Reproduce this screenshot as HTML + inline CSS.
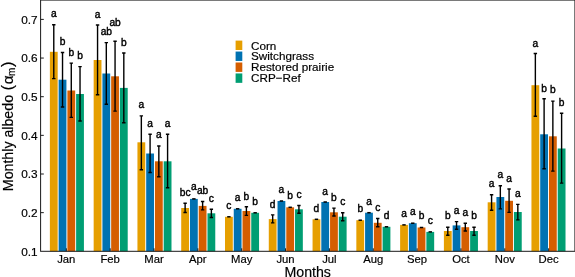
<!DOCTYPE html><html><head><meta charset="utf-8"><title>Monthly albedo</title>
<style>html,body{margin:0;padding:0;background:#fff}svg{display:block;will-change:transform;opacity:0.999}text{font-family:"Liberation Sans",sans-serif;fill:#000;stroke:#000;stroke-width:0.18px}</style></head><body>
<svg width="575" height="277" viewBox="0 0 575 277">
<rect width="575" height="277" fill="#fff"/>
<rect x="49.88" y="51.80" width="7.80" height="199.50" fill="#E69F00"/>
<rect x="58.63" y="79.70" width="7.80" height="171.60" fill="#0072B2"/>
<rect x="67.38" y="90.50" width="7.80" height="160.80" fill="#D55E00"/>
<rect x="76.12" y="94.00" width="7.80" height="157.30" fill="#009E73"/>
<rect x="93.66" y="60.00" width="7.80" height="191.30" fill="#E69F00"/>
<rect x="102.41" y="73.50" width="7.80" height="177.80" fill="#0072B2"/>
<rect x="111.16" y="76.30" width="7.80" height="175.00" fill="#D55E00"/>
<rect x="119.91" y="87.90" width="7.80" height="163.40" fill="#009E73"/>
<rect x="137.44" y="142.30" width="7.80" height="109.00" fill="#E69F00"/>
<rect x="146.19" y="153.50" width="7.80" height="97.80" fill="#0072B2"/>
<rect x="154.94" y="161.30" width="7.80" height="90.00" fill="#D55E00"/>
<rect x="163.69" y="161.30" width="7.80" height="90.00" fill="#009E73"/>
<rect x="181.22" y="208.00" width="7.80" height="43.30" fill="#E69F00"/>
<rect x="189.97" y="198.90" width="7.80" height="52.40" fill="#0072B2"/>
<rect x="198.72" y="205.90" width="7.80" height="45.40" fill="#D55E00"/>
<rect x="207.47" y="213.30" width="7.80" height="38.00" fill="#009E73"/>
<rect x="225.00" y="216.80" width="7.80" height="34.50" fill="#E69F00"/>
<rect x="233.75" y="208.80" width="7.80" height="42.50" fill="#0072B2"/>
<rect x="242.50" y="211.00" width="7.80" height="40.30" fill="#D55E00"/>
<rect x="251.25" y="212.80" width="7.80" height="38.50" fill="#009E73"/>
<rect x="268.78" y="219.10" width="7.80" height="32.20" fill="#E69F00"/>
<rect x="277.53" y="201.00" width="7.80" height="50.30" fill="#0072B2"/>
<rect x="286.28" y="207.30" width="7.80" height="44.00" fill="#D55E00"/>
<rect x="295.03" y="209.30" width="7.80" height="42.00" fill="#009E73"/>
<rect x="312.56" y="219.30" width="7.80" height="32.00" fill="#E69F00"/>
<rect x="321.31" y="202.00" width="7.80" height="49.30" fill="#0072B2"/>
<rect x="330.06" y="212.30" width="7.80" height="39.00" fill="#D55E00"/>
<rect x="338.81" y="216.70" width="7.80" height="34.60" fill="#009E73"/>
<rect x="356.34" y="220.20" width="7.80" height="31.10" fill="#E69F00"/>
<rect x="365.09" y="212.70" width="7.80" height="38.60" fill="#0072B2"/>
<rect x="373.84" y="222.80" width="7.80" height="28.50" fill="#D55E00"/>
<rect x="382.59" y="226.80" width="7.80" height="24.50" fill="#009E73"/>
<rect x="400.12" y="224.90" width="7.80" height="26.40" fill="#E69F00"/>
<rect x="408.87" y="223.20" width="7.80" height="28.10" fill="#0072B2"/>
<rect x="417.62" y="227.50" width="7.80" height="23.80" fill="#D55E00"/>
<rect x="426.37" y="231.90" width="7.80" height="19.40" fill="#009E73"/>
<rect x="443.89" y="231.00" width="7.80" height="20.30" fill="#E69F00"/>
<rect x="452.64" y="225.40" width="7.80" height="25.90" fill="#0072B2"/>
<rect x="461.39" y="227.20" width="7.80" height="24.10" fill="#D55E00"/>
<rect x="470.14" y="231.00" width="7.80" height="20.30" fill="#009E73"/>
<rect x="487.68" y="202.30" width="7.80" height="49.00" fill="#E69F00"/>
<rect x="496.43" y="197.00" width="7.80" height="54.30" fill="#0072B2"/>
<rect x="505.18" y="200.80" width="7.80" height="50.50" fill="#D55E00"/>
<rect x="513.93" y="212.00" width="7.80" height="39.30" fill="#009E73"/>
<rect x="531.46" y="85.20" width="7.80" height="166.10" fill="#E69F00"/>
<rect x="540.21" y="134.30" width="7.80" height="117.00" fill="#0072B2"/>
<rect x="548.96" y="136.30" width="7.80" height="115.00" fill="#D55E00"/>
<rect x="557.71" y="148.50" width="7.80" height="102.80" fill="#009E73"/>
<path d="M52.08 24.80H55.48M52.08 78.60H55.48M53.78 24.80V78.60" stroke="#000" stroke-width="1.4" fill="none"/>
<path d="M60.83 52.50H64.23M60.83 107.00H64.23M62.53 52.50V107.00" stroke="#000" stroke-width="1.4" fill="none"/>
<path d="M69.58 63.10H72.98M69.58 117.40H72.98M71.28 63.10V117.40" stroke="#000" stroke-width="1.4" fill="none"/>
<path d="M78.33 66.60H81.73M78.33 121.00H81.73M80.03 66.60V121.00" stroke="#000" stroke-width="1.4" fill="none"/>
<path d="M95.86 25.00H99.26M95.86 94.70H99.26M97.56 25.00V94.70" stroke="#000" stroke-width="1.4" fill="none"/>
<path d="M104.61 42.60H108.01M104.61 104.30H108.01M106.31 42.60V104.30" stroke="#000" stroke-width="1.4" fill="none"/>
<path d="M113.36 41.30H116.76M113.36 111.10H116.76M115.06 41.30V111.10" stroke="#000" stroke-width="1.4" fill="none"/>
<path d="M122.11 53.00H125.51M122.11 122.80H125.51M123.81 53.00V122.80" stroke="#000" stroke-width="1.4" fill="none"/>
<path d="M139.64 115.90H143.03M139.64 169.70H143.03M141.34 115.90V169.70" stroke="#000" stroke-width="1.4" fill="none"/>
<path d="M148.39 134.20H151.78M148.39 172.50H151.78M150.09 134.20V172.50" stroke="#000" stroke-width="1.4" fill="none"/>
<path d="M157.14 146.00H160.53M157.14 176.80H160.53M158.84 146.00V176.80" stroke="#000" stroke-width="1.4" fill="none"/>
<path d="M165.89 134.20H169.28M165.89 187.80H169.28M167.59 134.20V187.80" stroke="#000" stroke-width="1.4" fill="none"/>
<path d="M183.42 203.30H186.81M183.42 212.50H186.81M185.12 203.30V212.50" stroke="#000" stroke-width="1.4" fill="none"/>
<path d="M192.17 198.90H195.56" stroke="#000" stroke-width="1.5" fill="none"/>
<path d="M200.92 201.50H204.31M200.92 209.90H204.31M202.62 201.50V209.90" stroke="#000" stroke-width="1.4" fill="none"/>
<path d="M209.67 209.30H213.06M209.67 217.50H213.06M211.37 209.30V217.50" stroke="#000" stroke-width="1.4" fill="none"/>
<path d="M227.20 216.80H230.59" stroke="#000" stroke-width="1.5" fill="none"/>
<path d="M235.95 208.80H239.34" stroke="#000" stroke-width="1.5" fill="none"/>
<path d="M244.70 206.70H248.09M244.70 215.40H248.09M246.40 206.70V215.40" stroke="#000" stroke-width="1.4" fill="none"/>
<path d="M253.45 212.80H256.85" stroke="#000" stroke-width="1.5" fill="none"/>
<path d="M270.98 214.90H274.38M270.98 222.90H274.38M272.68 214.90V222.90" stroke="#000" stroke-width="1.4" fill="none"/>
<path d="M279.73 201.00H283.12" stroke="#000" stroke-width="1.5" fill="none"/>
<path d="M288.48 207.30H291.88" stroke="#000" stroke-width="1.5" fill="none"/>
<path d="M297.23 205.50H300.62M297.23 213.20H300.62M298.93 205.50V213.20" stroke="#000" stroke-width="1.4" fill="none"/>
<path d="M314.76 219.30H318.16" stroke="#000" stroke-width="1.5" fill="none"/>
<path d="M323.51 202.00H326.91" stroke="#000" stroke-width="1.5" fill="none"/>
<path d="M332.26 208.10H335.66M332.26 216.00H335.66M333.96 208.10V216.00" stroke="#000" stroke-width="1.4" fill="none"/>
<path d="M341.01 212.80H344.41M341.01 220.70H344.41M342.71 212.80V220.70" stroke="#000" stroke-width="1.4" fill="none"/>
<path d="M358.54 220.20H361.94" stroke="#000" stroke-width="1.5" fill="none"/>
<path d="M367.29 212.70H370.69" stroke="#000" stroke-width="1.5" fill="none"/>
<path d="M376.04 218.50H379.44M376.04 226.80H379.44M377.74 218.50V226.80" stroke="#000" stroke-width="1.4" fill="none"/>
<path d="M384.79 226.80H388.19" stroke="#000" stroke-width="1.5" fill="none"/>
<path d="M402.31 224.90H405.71" stroke="#000" stroke-width="1.5" fill="none"/>
<path d="M411.06 223.20H414.46" stroke="#000" stroke-width="1.5" fill="none"/>
<path d="M419.81 227.50H423.21" stroke="#000" stroke-width="1.5" fill="none"/>
<path d="M428.56 231.90H431.96" stroke="#000" stroke-width="1.5" fill="none"/>
<path d="M446.09 227.20H449.49M446.09 235.30H449.49M447.79 227.20V235.30" stroke="#000" stroke-width="1.4" fill="none"/>
<path d="M454.84 221.60H458.24M454.84 229.30H458.24M456.54 221.60V229.30" stroke="#000" stroke-width="1.4" fill="none"/>
<path d="M463.59 223.30H466.99M463.59 231.00H466.99M465.29 223.30V231.00" stroke="#000" stroke-width="1.4" fill="none"/>
<path d="M472.34 227.20H475.74M472.34 235.30H475.74M474.04 227.20V235.30" stroke="#000" stroke-width="1.4" fill="none"/>
<path d="M489.88 194.80H493.28M489.88 210.30H493.28M491.58 194.80V210.30" stroke="#000" stroke-width="1.4" fill="none"/>
<path d="M498.63 185.70H502.03M498.63 208.90H502.03M500.33 185.70V208.90" stroke="#000" stroke-width="1.4" fill="none"/>
<path d="M507.38 189.00H510.78M507.38 212.40H510.78M509.08 189.00V212.40" stroke="#000" stroke-width="1.4" fill="none"/>
<path d="M516.12 204.40H519.53M516.12 219.90H519.53M517.83 204.40V219.90" stroke="#000" stroke-width="1.4" fill="none"/>
<path d="M533.65 53.50H537.06M533.65 116.20H537.06M535.36 53.50V116.20" stroke="#000" stroke-width="1.4" fill="none"/>
<path d="M542.40 98.80H545.81M542.40 168.80H545.81M544.11 98.80V168.80" stroke="#000" stroke-width="1.4" fill="none"/>
<path d="M551.15 101.10H554.56M551.15 171.10H554.56M552.86 101.10V171.10" stroke="#000" stroke-width="1.4" fill="none"/>
<path d="M559.90 113.30H563.31M559.90 183.10H563.31M561.61 113.30V183.10" stroke="#000" stroke-width="1.4" fill="none"/>
<text x="53.78" y="17.00" font-size="10.2" text-anchor="middle" style="stroke-width:0.4px">a</text>
<text x="62.53" y="44.80" font-size="10.2" text-anchor="middle" style="stroke-width:0.4px">b</text>
<text x="71.28" y="55.90" font-size="10.2" text-anchor="middle" style="stroke-width:0.4px">b</text>
<text x="80.03" y="59.20" font-size="10.2" text-anchor="middle" style="stroke-width:0.4px">b</text>
<text x="97.56" y="17.70" font-size="10.2" text-anchor="middle" style="stroke-width:0.4px">a</text>
<text x="106.31" y="35.10" font-size="10.2" text-anchor="middle" style="stroke-width:0.4px">ab</text>
<text x="115.06" y="25.80" font-size="10.2" text-anchor="middle" style="stroke-width:0.4px">ab</text>
<text x="123.81" y="45.70" font-size="10.2" text-anchor="middle" style="stroke-width:0.4px">b</text>
<text x="141.34" y="107.90" font-size="10.2" text-anchor="middle" style="stroke-width:0.4px">a</text>
<text x="150.09" y="126.70" font-size="10.2" text-anchor="middle" style="stroke-width:0.4px">a</text>
<text x="158.84" y="138.00" font-size="10.2" text-anchor="middle" style="stroke-width:0.4px">a</text>
<text x="167.59" y="126.70" font-size="10.2" text-anchor="middle" style="stroke-width:0.4px">a</text>
<text x="185.12" y="196.40" font-size="10.2" text-anchor="middle" style="stroke-width:0.4px">bc</text>
<text x="193.87" y="190.40" font-size="10.2" text-anchor="middle" style="stroke-width:0.4px">a</text>
<text x="202.62" y="194.40" font-size="10.2" text-anchor="middle" style="stroke-width:0.4px">ab</text>
<text x="211.37" y="201.80" font-size="10.2" text-anchor="middle" style="stroke-width:0.4px">c</text>
<text x="228.90" y="208.90" font-size="10.2" text-anchor="middle" style="stroke-width:0.4px">c</text>
<text x="237.65" y="201.40" font-size="10.2" text-anchor="middle" style="stroke-width:0.4px">a</text>
<text x="246.40" y="199.80" font-size="10.2" text-anchor="middle" style="stroke-width:0.4px">b</text>
<text x="255.15" y="204.50" font-size="10.2" text-anchor="middle" style="stroke-width:0.4px">b</text>
<text x="272.68" y="207.50" font-size="10.2" text-anchor="middle" style="stroke-width:0.4px">d</text>
<text x="281.43" y="193.20" font-size="10.2" text-anchor="middle" style="stroke-width:0.4px">a</text>
<text x="290.18" y="199.30" font-size="10.2" text-anchor="middle" style="stroke-width:0.4px">b</text>
<text x="298.93" y="198.10" font-size="10.2" text-anchor="middle" style="stroke-width:0.4px">c</text>
<text x="316.46" y="211.80" font-size="10.2" text-anchor="middle" style="stroke-width:0.4px">d</text>
<text x="325.21" y="194.60" font-size="10.2" text-anchor="middle" style="stroke-width:0.4px">a</text>
<text x="333.96" y="200.50" font-size="10.2" text-anchor="middle" style="stroke-width:0.4px">b</text>
<text x="342.71" y="205.10" font-size="10.2" text-anchor="middle" style="stroke-width:0.4px">c</text>
<text x="360.24" y="212.40" font-size="10.2" text-anchor="middle" style="stroke-width:0.4px">b</text>
<text x="368.99" y="205.00" font-size="10.2" text-anchor="middle" style="stroke-width:0.4px">a</text>
<text x="377.74" y="211.00" font-size="10.2" text-anchor="middle" style="stroke-width:0.4px">c</text>
<text x="386.49" y="218.90" font-size="10.2" text-anchor="middle" style="stroke-width:0.4px">d</text>
<text x="404.01" y="217.10" font-size="10.2" text-anchor="middle" style="stroke-width:0.4px">a</text>
<text x="412.76" y="215.40" font-size="10.2" text-anchor="middle" style="stroke-width:0.4px">a</text>
<text x="421.51" y="219.40" font-size="10.2" text-anchor="middle" style="stroke-width:0.4px">b</text>
<text x="430.26" y="223.70" font-size="10.2" text-anchor="middle" style="stroke-width:0.4px">c</text>
<text x="447.79" y="219.40" font-size="10.2" text-anchor="middle" style="stroke-width:0.4px">b</text>
<text x="456.54" y="213.70" font-size="10.2" text-anchor="middle" style="stroke-width:0.4px">a</text>
<text x="465.29" y="215.70" font-size="10.2" text-anchor="middle" style="stroke-width:0.4px">a</text>
<text x="474.04" y="219.40" font-size="10.2" text-anchor="middle" style="stroke-width:0.4px">b</text>
<text x="491.58" y="187.00" font-size="10.2" text-anchor="middle" style="stroke-width:0.4px">a</text>
<text x="500.33" y="177.80" font-size="10.2" text-anchor="middle" style="stroke-width:0.4px">a</text>
<text x="509.08" y="181.60" font-size="10.2" text-anchor="middle" style="stroke-width:0.4px">a</text>
<text x="517.83" y="196.60" font-size="10.2" text-anchor="middle" style="stroke-width:0.4px">a</text>
<text x="535.36" y="46.90" font-size="10.2" text-anchor="middle" style="stroke-width:0.4px">a</text>
<text x="544.11" y="91.70" font-size="10.2" text-anchor="middle" style="stroke-width:0.4px">b</text>
<text x="552.86" y="93.40" font-size="10.2" text-anchor="middle" style="stroke-width:0.4px">b</text>
<text x="561.61" y="106.00" font-size="10.2" text-anchor="middle" style="stroke-width:0.4px">b</text>
<rect x="40.6" y="0.08" width="534.3199999999999" height="251.22" fill="none" stroke="#1a1a1a" stroke-width="1"/>
<text x="37.6" y="255.50" font-size="11.8" text-anchor="end">0.1</text>
<path d="M40.6 212.65h3.2" stroke="#1a1a1a" stroke-width="1"/>
<text x="37.6" y="216.85" font-size="11.8" text-anchor="end">0.2</text>
<path d="M40.6 174.00h3.2" stroke="#1a1a1a" stroke-width="1"/>
<text x="37.6" y="178.20" font-size="11.8" text-anchor="end">0.3</text>
<path d="M40.6 135.35h3.2" stroke="#1a1a1a" stroke-width="1"/>
<text x="37.6" y="139.55" font-size="11.8" text-anchor="end">0.4</text>
<path d="M40.6 96.70h3.2" stroke="#1a1a1a" stroke-width="1"/>
<text x="37.6" y="100.90" font-size="11.8" text-anchor="end">0.5</text>
<path d="M40.6 58.05h3.2" stroke="#1a1a1a" stroke-width="1"/>
<text x="37.6" y="62.25" font-size="11.8" text-anchor="end">0.6</text>
<path d="M40.6 19.40h3.2" stroke="#1a1a1a" stroke-width="1"/>
<text x="37.6" y="23.60" font-size="11.8" text-anchor="end">0.7</text>
<path d="M66.30 251.3v-3" stroke="#1a1a1a" stroke-width="1"/>
<text x="66.30" y="263.1" font-size="11.3" text-anchor="middle">Jan</text>
<path d="M110.15 251.3v-3" stroke="#1a1a1a" stroke-width="1"/>
<text x="110.15" y="263.1" font-size="11.3" text-anchor="middle">Feb</text>
<path d="M154.00 251.3v-3" stroke="#1a1a1a" stroke-width="1"/>
<text x="154.00" y="263.1" font-size="11.3" text-anchor="middle">Mar</text>
<path d="M197.85 251.3v-3" stroke="#1a1a1a" stroke-width="1"/>
<text x="197.85" y="263.1" font-size="11.3" text-anchor="middle">Apr</text>
<path d="M241.70 251.3v-3" stroke="#1a1a1a" stroke-width="1"/>
<text x="241.70" y="263.1" font-size="11.3" text-anchor="middle">May</text>
<path d="M285.55 251.3v-3" stroke="#1a1a1a" stroke-width="1"/>
<text x="285.55" y="263.1" font-size="11.3" text-anchor="middle">Jun</text>
<path d="M329.40 251.3v-3" stroke="#1a1a1a" stroke-width="1"/>
<text x="329.40" y="263.1" font-size="11.3" text-anchor="middle">Jul</text>
<path d="M373.25 251.3v-3" stroke="#1a1a1a" stroke-width="1"/>
<text x="373.25" y="263.1" font-size="11.3" text-anchor="middle">Aug</text>
<path d="M417.10 251.3v-3" stroke="#1a1a1a" stroke-width="1"/>
<text x="417.10" y="263.1" font-size="11.3" text-anchor="middle">Sep</text>
<path d="M460.95 251.3v-3" stroke="#1a1a1a" stroke-width="1"/>
<text x="460.95" y="263.1" font-size="11.3" text-anchor="middle">Oct</text>
<path d="M504.80 251.3v-3" stroke="#1a1a1a" stroke-width="1"/>
<text x="504.80" y="263.1" font-size="11.3" text-anchor="middle">Nov</text>
<path d="M548.65 251.3v-3" stroke="#1a1a1a" stroke-width="1"/>
<text x="548.65" y="263.1" font-size="11.3" text-anchor="middle">Dec</text>
<text x="307.7" y="276.8" font-size="14.2" text-anchor="middle">Months</text>
<text transform="translate(12.7 0) rotate(-90)" font-size="14.2"><tspan x="-191.2">Monthly albedo</tspan><tspan x="-90.5" font-size="16.4">(</tspan><tspan x="-84.3" font-size="15.2">α</tspan><tspan x="-76" dy="2.1" font-size="10">m</tspan><tspan x="-66.9" dy="-2.1" font-size="16.4">)</tspan></text>
<rect x="235.6" y="40.60" width="6.7" height="9.4" fill="#E69F00"/>
<text x="251" y="49.50" font-size="11.7">Corn</text>
<rect x="235.6" y="51.55" width="6.7" height="9.4" fill="#0072B2"/>
<text x="251" y="60.25" font-size="11.7">Switchgrass</text>
<rect x="235.6" y="62.50" width="6.7" height="9.4" fill="#D55E00"/>
<text x="251" y="71.00" font-size="11.7">Restored prairie</text>
<rect x="235.6" y="73.45" width="6.7" height="9.4" fill="#009E73"/>
<text x="251" y="81.75" font-size="11.7">CRP−Ref</text>
</svg></body></html>
